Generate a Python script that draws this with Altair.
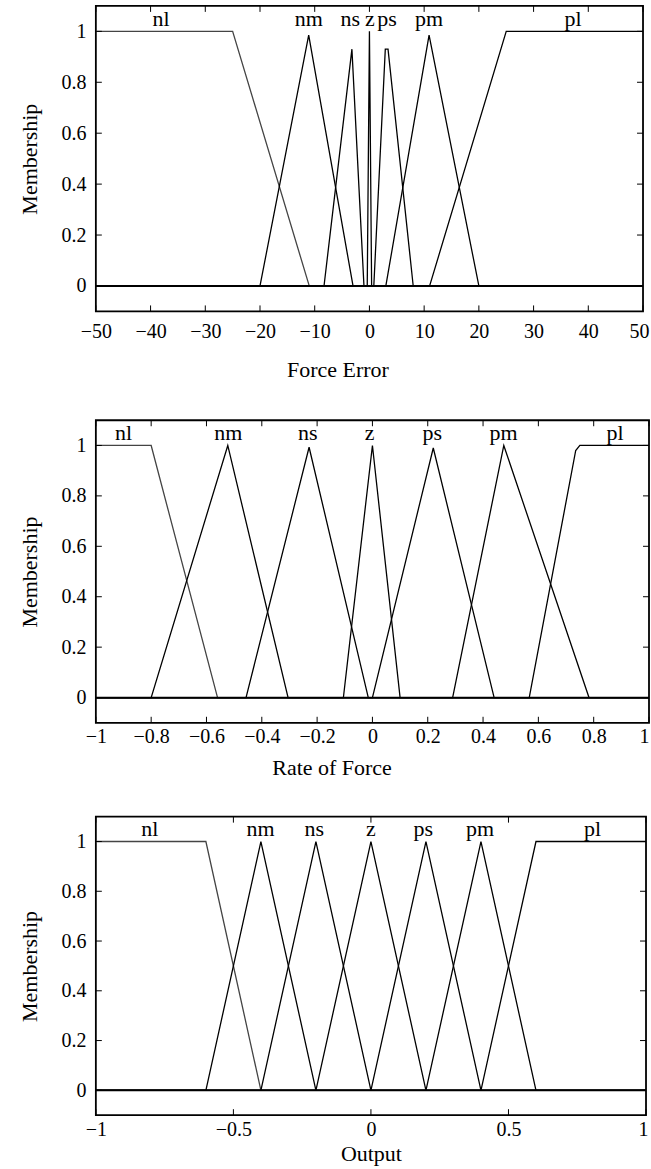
import altair as alt
import pandas as pd

FONT = "Liberation Serif"
SET_NAMES = ["nl", "nm", "ns", "z", "ps", "pm", "pl"]

# ---------------- Force Error ----------------
fe_domain = [-50, 50]
fe_ticks = [-50, -40, -30, -20, -10, 0, 10, 20, 30, 40, 50]
fe_nl_x = [-50, -25, -11, 50];            fe_nl_y = [1, 1, 0, 0]
fe_nm_x = [-50, -20, -11.1, -3, 50];      fe_nm_y = [0, 0, 0.985, 0, 0]
fe_ns_x = [-50, -8.3, -3.2, -1, 50];      fe_ns_y = [0, 0, 0.93, 0, 0]
fe_z_x = [-50, -0.4, 0, 0.4, 50];         fe_z_y = [0, 0, 1, 0, 0]
fe_ps_x = [-50, 0.8, 2.9, 3.4, 8, 50];    fe_ps_y = [0, 0, 0.93, 0.93, 0, 0]
fe_pm_x = [-50, 3, 10.9, 20, 50];         fe_pm_y = [0, 0, 0.985, 0, 0]
fe_pl_x = [-50, 11, 25, 50];              fe_pl_y = [0, 0, 1, 1]
fe_label_x = [-38.1, -11.1, -3.5, 0.1, 3.2, 10.9, 37.2]

# ---------------- Rate of Force ----------------
rf_domain = [-1, 1]
rf_ticks = [-1, -0.8, -0.6, -0.4, -0.2, 0, 0.2, 0.4, 0.6, 0.8, 1]
rf_nl_x = [-1, -0.8, -0.56, 1];              rf_nl_y = [1, 1, 0, 0]
rf_nm_x = [-1, -0.8, -0.523, -0.305, 1];     rf_nm_y = [0, 0, 1, 0, 0]
rf_ns_x = [-1, -0.457, -0.229, -0.015, 1];   rf_ns_y = [0, 0, 0.993, 0, 0]
rf_z_x = [-1, -0.105, 0, 0.1, 1];            rf_z_y = [0, 0, 1, 0, 0]
rf_ps_x = [-1, 0, 0.22, 0.44, 1];            rf_ps_y = [0, 0, 0.99, 0, 0]
rf_pm_x = [-1, 0.29, 0.475, 0.783, 1];       rf_pm_y = [0, 0, 1, 0, 0]
rf_pl_x = [-1, 0.567, 0.735, 0.75, 1];       rf_pl_y = [0, 0, 0.98, 1, 1]
rf_label_x = [-0.9, -0.521, -0.234, -0.01, 0.216, 0.474, 0.877]

# ---------------- Output ----------------
out_domain = [-1, 1]
out_ticks = [-1, -0.5, 0, 0.5, 1]
out_nl_x = [-1, -0.6, -0.4, 1];        out_nl_y = [1, 1, 0, 0]
out_nm_x = [-1, -0.6, -0.4, -0.2, 1];  out_nm_y = [0, 0, 1, 0, 0]
out_ns_x = [-1, -0.4, -0.2, 0, 1];     out_ns_y = [0, 0, 1, 0, 0]
out_z_x = [-1, -0.2, 0, 0.2, 1];       out_z_y = [0, 0, 1, 0, 0]
out_ps_x = [-1, 0, 0.2, 0.4, 1];       out_ps_y = [0, 0, 1, 0, 0]
out_pm_x = [-1, 0.2, 0.4, 0.6, 1];     out_pm_y = [0, 0, 1, 0, 0]
out_pl_x = [-1, 0.4, 0.6, 1];          out_pl_y = [0, 0, 1, 1]
out_label_x = [-0.804, -0.401, -0.206, 0.0, 0.19, 0.397, 0.806]

y_ticks = [0, 0.2, 0.4, 0.6, 0.8, 1]
y_domain = [-0.1, 1.1]
LABEL_Y = 1.022
TICK = 6


def panel(sets, label_x, domain, ticks_x, xfmt, width, height, title, title_x,
          lab_pad_x, title_pad_x, lab_pad_y, title_pad_y, last_shift):
    rows = []
    for name, xs, ys in sets:
        for i, (xv, yv) in enumerate(zip(xs, ys)):
            rows.append({"set": name, "order": i, "x": xv, "y": yv})
    df = pd.DataFrame(rows)
    xs_ = alt.Scale(domain=domain, nice=False, zero=False)
    ys_ = alt.Scale(domain=y_domain, nice=False, zero=False)

    xaxis_kw = dict(values=ticks_x, ticks=False, domain=False, grid=False,
                    labelFlush=False, format=xfmt, labelPadding=lab_pad_x,
                    titlePadding=title_pad_x,
                    labelOffset={"condition": {"test": f"datum.value >= {domain[1]}",
                                               "value": last_shift}, "value": 0})
    if title_x is not None:
        xaxis_kw["titleX"] = title_x
    xax = alt.Axis(**xaxis_kw)
    yax = alt.Axis(values=y_ticks, ticks=False, domain=False, grid=False,
                   format="~g", labelPadding=lab_pad_y, titlePadding=title_pad_y)

    def X(f="x"):
        return alt.X(f + ":Q", scale=xs_, title=title, axis=xax)

    def Y(f="y"):
        return alt.Y(f + ":Q", scale=ys_, title="Membership", axis=yax)

    lines = alt.Chart(df).mark_line(strokeWidth=1.3, clip=True).encode(
        x=X(), y=Y(),
        detail="set:N",
        order="order:Q",
        color=alt.Color("set:N", scale=alt.Scale(domain=SET_NAMES,
                        range=["#444444"] + ["#000000"] * 6), legend=None),
    )
    zero = alt.Chart(pd.DataFrame({"y": [0]})).mark_rule(
        color="black", strokeWidth=1.8).encode(y=Y())

    xt = pd.DataFrame({"x": ticks_x})
    yt = pd.DataFrame({"y": y_ticks})
    tb = alt.Chart(xt).mark_rule(color="black", strokeWidth=1).encode(
        x=X(), y=alt.value(height), y2=alt.value(height - TICK))
    tt = alt.Chart(xt).mark_rule(color="black", strokeWidth=1).encode(
        x=X(), y=alt.value(0), y2=alt.value(TICK))
    tl = alt.Chart(yt).mark_rule(color="black", strokeWidth=1).encode(
        y=Y(), x=alt.value(0), x2=alt.value(TICK))
    tr = alt.Chart(yt).mark_rule(color="black", strokeWidth=1).encode(
        y=Y(), x=alt.value(width - TICK), x2=alt.value(width))

    lab = pd.DataFrame({"label": SET_NAMES, "x": label_x})
    lab["y"] = LABEL_Y
    texts = alt.Chart(lab).mark_text(font=FONT, fontSize=22, baseline="alphabetic",
                                     align="center", color="black").encode(
        x=X(), y=Y(), text="label:N")

    return alt.layer(lines, zero, tb, tt, tl, tr, texts).properties(
        width=width, height=height)


fe_sets = [("nl", fe_nl_x, fe_nl_y), ("nm", fe_nm_x, fe_nm_y), ("ns", fe_ns_x, fe_ns_y),
           ("z", fe_z_x, fe_z_y), ("ps", fe_ps_x, fe_ps_y), ("pm", fe_pm_x, fe_pm_y),
           ("pl", fe_pl_x, fe_pl_y)]
rf_sets = [("nl", rf_nl_x, rf_nl_y), ("nm", rf_nm_x, rf_nm_y), ("ns", rf_ns_x, rf_ns_y),
           ("z", rf_z_x, rf_z_y), ("ps", rf_ps_x, rf_ps_y), ("pm", rf_pm_x, rf_pm_y),
           ("pl", rf_pl_x, rf_pl_y)]
out_sets = [("nl", out_nl_x, out_nl_y), ("nm", out_nm_x, out_nm_y), ("ns", out_ns_x, out_ns_y),
            ("z", out_z_x, out_z_y), ("ps", out_ps_x, out_ps_y), ("pm", out_pm_x, out_pm_y),
            ("pl", out_pl_x, out_pl_y)]

top = panel(fe_sets, fe_label_x, fe_domain, fe_ticks, "d", 548, 306, "Force Error", 242,
            10, 18, 10, 19, -4)
mid = panel(rf_sets, rf_label_x, rf_domain, rf_ticks, "~g", 554, 303, "Rate of Force", 236,
            4, 11, 10, 19, -5)
bot = panel(out_sets, out_label_x, out_domain, out_ticks, "~g", 551, 299, "Output", None,
            4, 4, 10, 19, -3)

chart = alt.vconcat(alt.vconcat(top, mid, spacing=37), bot, spacing=35).properties(
    padding={"left": 18, "top": 3, "right": 0, "bottom": 0},
    background="white"
).configure_view(stroke="black", strokeWidth=1.8).configure_axis(
    labelFont=FONT, titleFont=FONT, labelFontSize=20, titleFontSize=22,
    labelColor="black", titleColor="black", titleFontWeight="normal"
)

chart.save("out.html", embed_options={"renderer": "svg", "actions": False})
